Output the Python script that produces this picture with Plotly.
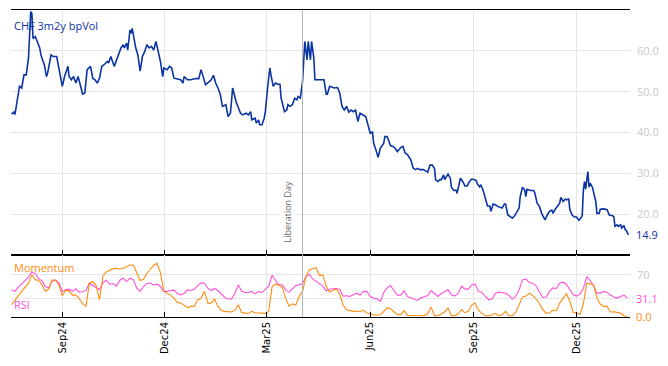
import pandas as pd
import plotly.graph_objects as go

# ---------------- data ----------------
vol_dates = [
    "2024-07-18","2024-07-20","2024-07-21","2024-07-24","2024-07-25","2024-07-27","2024-07-29","2024-07-31",
    "2024-08-02","2024-08-03","2024-08-04","2024-08-05","2024-08-06","2024-08-08","2024-08-10","2024-08-12",
    "2024-08-13","2024-08-16","2024-08-18","2024-08-19","2024-08-22","2024-08-24","2024-08-27","2024-08-28",
    "2024-08-31","2024-09-01","2024-09-03","2024-09-06","2024-09-07","2024-09-09","2024-09-11","2024-09-13",
    "2024-09-15","2024-09-17","2024-09-19","2024-09-21","2024-09-23","2024-09-26","2024-09-28","2024-09-30",
    "2024-10-02","2024-10-04","2024-10-06","2024-10-08","2024-10-11","2024-10-12","2024-10-14","2024-10-17",
    "2024-10-19","2024-10-21","2024-10-23","2024-10-25","2024-10-26","2024-10-28","2024-10-29","2024-10-31",
    "2024-11-01","2024-11-02","2024-11-03","2024-11-05","2024-11-07","2024-11-09","2024-11-11","2024-11-13",
    "2024-11-15","2024-11-17","2024-11-19","2024-11-21","2024-11-23","2024-11-25","2024-11-27","2024-11-29",
    "2024-11-30","2024-12-03","2024-12-05","2024-12-07","2024-12-09","2024-12-12","2024-12-15","2024-12-17",
    "2024-12-18","2024-12-21","2024-12-24","2024-12-28","2024-12-31","2025-01-02","2025-01-04","2025-01-06",
    "2025-01-09","2025-01-11","2025-01-13","2025-01-15","2025-01-17","2025-01-19",
    "2025-01-21","2025-01-23","2025-01-24","2025-01-26","2025-01-28","2025-01-29","2025-01-30","2025-02-02",
    "2025-02-04","2025-02-06","2025-02-08","2025-02-11","2025-02-13","2025-02-15","2025-02-16","2025-02-19",
    "2025-02-20","2025-02-22","2025-02-23","2025-02-25","2025-02-27","2025-02-28","2025-03-02","2025-03-04",
    "2025-03-05","2025-03-07","2025-03-09","2025-03-11","2025-03-13","2025-03-14","2025-03-17","2025-03-19",
    "2025-03-20","2025-03-22","2025-03-24","2025-03-26","2025-03-28","2025-03-29","2025-03-31","2025-04-02",
    "2025-04-04","2025-04-06","2025-04-07","2025-04-09","2025-04-10","2025-04-12","2025-04-13","2025-04-16",
    "2025-04-21","2025-04-23","2025-04-24","2025-04-26","2025-04-28","2025-04-30","2025-05-03","2025-05-05",
    "2025-05-07","2025-05-09","2025-05-11","2025-05-13","2025-05-15","2025-05-17","2025-05-19","2025-05-21",
    "2025-05-23","2025-05-26","2025-05-28","2025-05-30","2025-06-01","2025-06-03","2025-06-04","2025-06-06",
    "2025-06-08","2025-06-10","2025-06-13","2025-06-14","2025-06-16","2025-06-19","2025-06-21","2025-06-23",
    "2025-06-25","2025-06-28","2025-06-30","2025-07-02","2025-07-04","2025-07-07","2025-07-09","2025-07-11",
    "2025-07-13","2025-07-15","2025-07-18","2025-07-20","2025-07-22",
    "2025-07-24","2025-07-26","2025-07-28","2025-07-29","2025-07-31","2025-08-02","2025-08-03","2025-08-05",
    "2025-08-06","2025-08-08","2025-08-09","2025-08-11","2025-08-12","2025-08-14","2025-08-16","2025-08-17",
    "2025-08-19","2025-08-20","2025-08-22","2025-08-24","2025-08-26","2025-08-28","2025-08-30","2025-09-01",
    "2025-09-03","2025-09-04","2025-09-06","2025-09-07","2025-09-09","2025-09-11","2025-09-13","2025-09-15",
    "2025-09-16","2025-09-18","2025-09-20","2025-09-22","2025-09-24","2025-09-26","2025-09-28","2025-09-29",
    "2025-10-01","2025-10-03","2025-10-05","2025-10-07","2025-10-09","2025-10-11","2025-10-12","2025-10-14",
    "2025-10-16","2025-10-17","2025-10-18","2025-10-21","2025-10-24","2025-10-25","2025-10-27","2025-10-29",
    "2025-10-31","2025-11-03","2025-11-05","2025-11-07","2025-11-09","2025-11-10","2025-11-12","2025-11-14",
    "2025-11-16","2025-11-17","2025-11-19","2025-11-21","2025-11-22","2025-11-24","2025-11-25","2025-11-27",
    "2025-11-29","2025-12-01","2025-12-03","2025-12-05","2025-12-06","2025-12-07","2025-12-08","2025-12-09",
    "2025-12-11","2025-12-12","2025-12-13","2025-12-15","2025-12-16","2025-12-18","2025-12-19","2025-12-21",
    "2025-12-22","2025-12-25","2025-12-28","2025-12-30","2026-01-02","2026-01-03","2026-01-04","2026-01-06",
    "2026-01-07","2026-01-09","2026-01-10","2026-01-12","2026-01-13","2026-01-14","2026-01-16",
]
vol_values = [
    44.5,45.0,44.4,48.9,51.3,50.9,54.1,54.1,
    58.2,63.9,69.6,69.2,63.0,63.5,62.3,60.7,
    59.0,56.6,53.7,54.6,59.0,58.6,58.6,57.0,
    52.1,51.3,53.7,56.2,53.7,52.9,53.7,52.1,
    53.7,51.7,49.4,49.7,55.4,56.2,53.3,52.9,
    52.1,53.3,56.2,56.6,57.4,57.0,58.6,56.2,
    57.8,59.4,60.7,61.5,60.7,61.9,60.2,65.1,
    64.3,65.5,63.9,60.8,59.0,55.0,58.6,59.8,
    61.5,60.7,61.1,60.2,62.3,59.8,57.4,53.7,
    55.8,55.4,56.2,55.8,53.3,53.1,52.9,52.1,
    53.7,52.9,52.9,53.2,53.2,55.4,53.3,51.7,
    52.4,52.9,54.0,52.1,50.9,49.4,
    46.4,46.6,46.8,43.9,44.7,47.6,50.9,47.6,
    46.0,44.7,44.3,44.7,44.3,45.1,43.1,43.5,
    42.3,43.1,41.9,41.9,43.5,45.1,50.9,55.8,
    54.1,51.3,52.1,51.8,51.8,48.4,45.1,45.5,
    46.8,46.4,46.8,48.4,48.0,48.8,48.4,52.5,
    62.3,57.8,62.3,57.8,62.3,58.2,52.9,52.9,
    52.9,49.4,49.4,51.3,51.0,50.9,51.0,49.6,
    46.4,45.5,46.4,45.0,45.5,45.1,45.5,42.7,
    44.7,44.3,43.9,41.9,39.8,40.1,37.4,35.8,
    33.9,36.2,37.4,39.0,39.0,36.8,36.6,36.2,
    35.3,36.3,36.6,35.0,34.6,33.3,31.3,30.9,
    31.2,30.9,30.9,30.6,30.3,
    32.0,32.0,31.2,28.4,28.0,28.5,28.4,29.6,
    28.5,29.2,29.8,28.8,26.6,25.8,25.9,25.1,
    27.2,28.8,28.0,26.9,26.9,28.0,28.6,28.5,
    28.2,27.4,26.7,27.2,25.9,23.9,22.0,22.0,
    20.7,22.5,22.3,21.9,21.7,21.5,22.5,22.5,
    19.8,19.3,19.0,19.6,20.7,21.5,24.3,26.6,
    25.9,24.3,26.1,25.8,25.8,25.1,22.7,21.9,
    20.2,18.6,19.8,20.7,21.0,20.2,21.2,22.0,
    22.7,24.1,23.1,23.7,23.5,23.7,21.1,19.8,
    19.3,19.3,18.5,19.1,19.8,25.9,28.0,26.1,
    30.4,26.6,27.6,26.6,25.5,23.1,20.2,20.2,
    21.2,21.3,21.1,19.8,19.6,19.4,17.0,17.4,
    17.0,17.4,16.6,17.2,16.3,16.0,14.9,
]

# indicators, read every 3 calendar days starting 2024-07-18
ind_start = "2024-07-18"
rsi_values = [
    44.9,42.3,49.3,54.8,58.6,65.7,74.5,71.8,63.5,59.7,50.4,48.2,59.2,61.3,55.9,42.3,
    44.9,46.0,42.8,46.6,41.1,41.6,44.4,55.9,52.0,48.2,45.5,56.4,60.8,54.2,55.3,51.0,
    60.8,64.1,58.6,64.1,61.3,47.6,42.3,50.4,55.9,55.9,53.1,54.2,50.4,42.3,42.3,43.8,
    44.4,38.9,36.7,38.9,44.9,43.8,46.0,52.0,56.4,55.9,47.6,43.8,47.1,43.8,37.8,32.3,30.1,
    29.6,39.4,53.1,42.8,40.6,40.6,42.3,38.3,42.3,40.6,44.9,50.4,69.0,61.3,52.6,53.7,
    44.9,41.1,46.0,52.0,53.1,55.3,66.8,70.7,62.9,59.2,54.2,51.0,43.3,46.0,46.6,47.1,
    45.5,34.5,35.0,33.9,36.7,39.4,36.2,42.3,42.3,33.9,31.2,30.1,25.7,40.6,48.2,52.0,
    43.8,36.2,36.2,43.3,33.9,31.7,29.0,27.4,31.7,33.4,35.6,43.8,38.3,33.9,38.9,42.3,44.9,
    36.7,34.5,39.4,51.0,46.0,46.0,53.1,54.2,42.3,40.6,33.9,28.5,29.6,39.4,41.1,40.6,
    39.4,35.6,29.6,33.9,44.9,61.3,62.9,57.0,55.9,51.5,40.6,32.3,32.9,42.3,48.2,47.1,
    55.9,57.5,53.7,46.0,36.7,34.5,37.8,47.1,66.8,60.3,52.0,39.4,39.4,42.3,40.6,36.2,
    32.9,31.2,33.9,36.2,31.1,
]
mom_values = [
    20.3,28.5,35.0,42.3,49.3,55.9,69.6,61.3,60.8,53.1,42.3,46.6,61.3,60.3,53.1,35.0,
    44.4,42.8,36.2,36.2,30.6,21.9,17.5,55.9,58.6,52.0,28.5,67.9,74.5,77.2,79.9,80.5,
    79.4,80.5,83.3,86.0,86.0,72.3,60.3,62.4,72.3,78.9,85.5,88.8,73.4,42.3,39.4,36.2,
    31.2,24.1,23.0,19.7,15.3,17.5,17.5,28.5,30.6,42.8,23.0,23.0,29.6,17.5,10.9,9.3,8.7,
    8.2,10.9,20.3,7.6,6.5,5.4,9.3,6.5,6.5,6.5,6.0,9.3,50.4,54.2,52.6,49.3,
    31.2,18.0,21.9,19.7,33.9,42.3,66.8,78.3,79.9,81.6,68.5,69.6,50.4,41.1,44.4,46.0,
    37.8,19.1,12.0,10.4,9.3,9.8,8.7,11.5,6.5,5.4,3.2,3.2,3.8,9.3,15.3,13.7,
    8.2,4.3,3.8,10.4,2.7,2.1,2.1,2.1,2.1,2.7,5.4,16.4,2.1,2.1,4.9,8.7,14.7,
    2.1,2.7,5.4,12.0,7.1,9.3,19.7,23.0,10.9,6.5,2.1,2.1,3.2,6.0,2.1,3.8,
    9.3,2.1,2.1,7.6,19.7,32.9,34.5,39.4,35.6,30.1,21.9,12.6,6.0,7.1,11.5,10.4,
    23.0,30.6,38.9,25.7,7.6,7.1,3.8,21.9,55.9,54.8,53.1,31.2,21.4,17.5,17.5,8.2,
    8.7,7.6,6.5,2.1,0.0,
]

tick_dates = ["2024-09-01", "2024-12-01", "2025-03-01", "2025-06-01", "2025-09-01", "2025-12-01"]
tick_labels = ["Sep24", "Dec24", "Mar25", "Jun25", "Sep25", "Dec25"]
vol_ticks = [20, 30, 40, 50, 60]
vol_tick_labels = ["20.0", "30.0", "40.0", "50.0", "60.0"]
ind_ticks = [30, 70]
ind_tick_labels = ["", "70"]
event_date = "2025-04-02"
event_label = "Liberation Day"
series_name = "CHF 3m2y bpVol"

# ---------------- styling ----------------
BLUE = "#0a34a3"
ORANGE = "#ff8c10"
PINK = "#ff50dc"
GRID = "#e6e6e6"
TICKGRAY = "#c8c8c8"
FONT = "Open Sans"

ind_dates = pd.date_range(ind_start, periods=len(rsi_values), freq="3D")
x_range = ["2024-07-17 12:00", "2026-01-17 08:00"]

fig = go.Figure()
fig.add_trace(go.Scatter(x=pd.to_datetime(vol_dates), y=vol_values, mode="lines",
                         line=dict(color=BLUE, width=1.6), xaxis="x", yaxis="y",
                         showlegend=False, hoverinfo="skip"))
fig.add_trace(go.Scatter(x=ind_dates, y=rsi_values, mode="lines",
                         line=dict(color=PINK, width=1.1), xaxis="x2", yaxis="y2",
                         showlegend=False, hoverinfo="skip"))
fig.add_trace(go.Scatter(x=ind_dates, y=mom_values, mode="lines",
                         line=dict(color=ORANGE, width=1.1), xaxis="x2", yaxis="y2",
                         showlegend=False, hoverinfo="skip"))

split = 0.202
common_x = dict(type="date", range=x_range, tickvals=tick_dates, ticktext=tick_labels,
                showgrid=True, gridcolor=GRID, gridwidth=1, showline=True, linecolor="black",
                linewidth=1, mirror=True, ticks="inside", ticklen=5, tickcolor="black",
                zeroline=False, automargin=False)
fig.update_layout(
    width=668, height=366,
    margin=dict(l=11, r=38, t=10, b=49),
    paper_bgcolor="white", plot_bgcolor="white",
    font=dict(family=FONT, size=11),
    hovermode=False,
    xaxis=dict(**common_x, anchor="y", showticklabels=False, domain=[0, 1]),
    xaxis2=dict(**common_x, anchor="y2", matches="x", showticklabels=True, tickangle=-90,
                tickfont=dict(family="DejaVu Sans", size=10, color="black"), domain=[0, 1]),
    yaxis=dict(domain=[split, 1], range=[10, 70], side="right", tickvals=vol_ticks,
               ticktext=vol_tick_labels, showgrid=True, gridcolor=GRID, zeroline=False,
               showline=False, ticks="", ticklabelstandoff=6, automargin=False,
               tickfont=dict(family=FONT, size=11, color=TICKGRAY)),
    yaxis2=dict(domain=[0, split], range=[0, 102.5], side="right", tickvals=ind_ticks,
                ticktext=ind_tick_labels, showgrid=True, gridcolor=GRID, zeroline=False,
                showline=False, ticks="", ticklabelstandoff=6, automargin=False,
                tickfont=dict(family=FONT, size=11, color=TICKGRAY)),
)

# event line through both panels
fig.add_shape(type="line", xref="x", yref="paper", x0=event_date, x1=event_date, y0=0, y1=1,
              line=dict(color="#b4b4b4", width=1), layer="above")

anns = [
    dict(text=series_name, xref="paper", yref="paper", x=0, y=1, xanchor="left", yanchor="top",
         xshift=1, yshift=-6, showarrow=False, font=dict(color=BLUE, size=11, family=FONT)),
    dict(text="Momentum", xref="paper", yref="y2 domain", x=0, y=1, xanchor="left", yanchor="top",
         xshift=1, yshift=-3, showarrow=False, font=dict(color=ORANGE, size=11, family=FONT)),
    dict(text="RSI", xref="paper", yref="y2 domain", x=0, y=0, xanchor="left", yanchor="bottom",
         xshift=1, yshift=3, showarrow=False, font=dict(color=PINK, size=11, family=FONT)),
    dict(text=f"{vol_values[-1]:.1f}", xref="paper", yref="y", x=1, y=vol_values[-1],
         xanchor="left", yanchor="middle", xshift=4, showarrow=False,
         font=dict(color=BLUE, size=11, family=FONT)),
    dict(text=f"{rsi_values[-1]:.1f}", xref="paper", yref="y2", x=1, y=rsi_values[-1],
         xanchor="left", yanchor="middle", xshift=4, showarrow=False,
         font=dict(color=PINK, size=11, family=FONT)),
    dict(text=f"{mom_values[-1]:.1f}", xref="paper", yref="y2", x=1, y=mom_values[-1],
         xanchor="left", yanchor="middle", xshift=4, showarrow=False,
         font=dict(color=ORANGE, size=11, family=FONT)),
    dict(text=event_label, xref="x", yref="y domain", x=event_date, y=0, xanchor="right",
         yanchor="bottom", xshift=-7, yshift=10, textangle=-90, showarrow=False,
         bgcolor="white", font=dict(color="#666666", size=9, family=FONT)),
]
for a in anns:
    fig.add_annotation(**a)

fig.write_html("out.html", config={"displayModeBar": False, "staticPlot": True},
               post_script="document.body.style.margin='0';document.body.style.padding='0';")
